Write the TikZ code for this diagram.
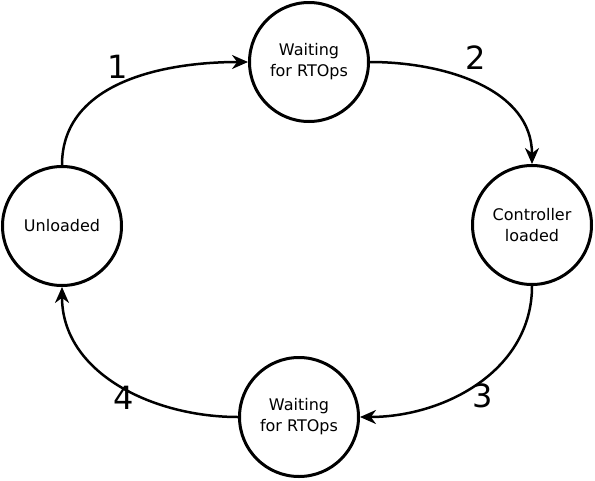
\documentclass[tikz,border=0pt]{standalone}
\usepackage{fontspec}
\setmainfont{DejaVu Sans}
\usetikzlibrary{arrows.meta}
\begin{document}
\begin{tikzpicture}[x=1pt,y=-1pt,
  state/.style={circle,draw,line width=3pt,minimum size=119pt,inner sep=0pt,align=center,font=\fontsize{16}{21}\selectfont},
  conn/.style={line width=2.5pt,-{Stealth[length=16pt,width=14pt]}},
  num/.style={font=\fontsize{32}{34}\selectfont}]
\useasboundingbox (0,0) rectangle (595,480);
\node[state] (top) at (309,62) {Waiting\\for RTOps};
\node[state] (left) at (62,226) {Unloaded};
\node[state] (right) at (532,225) {Controller\\loaded};
\node[state] (bot) at (299,417) {Waiting\\for RTOps};
\draw[conn] (left.north) to[out=90,in=180] (top.west);
\draw[conn] (top.east) to[out=0,in=90] (right.north);
\draw[conn] (right.south) to[out=-90,in=0] (bot.east);
\draw[conn] (bot.west) to[out=180,in=-90] (left.south);
\node[num] (n1) at (118,67) {1};
\node[num] (n2) at (476,58) {2};
\node[num] (n3) at (483,396) {3};
\node[num] (n4) at (124,398) {4};
\end{tikzpicture}
\end{document}
